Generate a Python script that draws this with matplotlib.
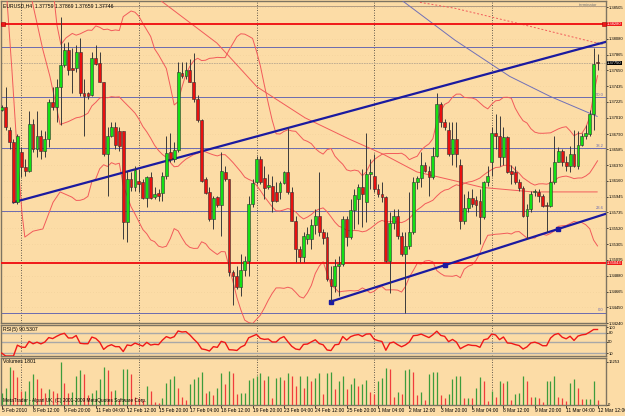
import numpy as np
import pandas as pd
import matplotlib
matplotlib.use("Agg")
import matplotlib.pyplot as plt

BG = "#fcdca6"
FONT = ["Liberation Sans Narrow", "Liberation Sans", "DejaVu Sans"]
plt.rcParams["font.family"] = FONT
FS = 3.4
FS_AX = 3.0

# EURUSD H4 candles, 5 Feb 2010 04:00 .. 12 Mar 2010 12:00 (prices in 1e-4 units)
open_p = [13712, 13716, 13685, 13669, 13587, 13655, 13634, 13629, 13693, 13659,
          13676, 13656, 13672, 13723, 13715, 13743, 13773, 13793, 13769, 13769,
          13790, 13734, 13734, 13732, 13782, 13775, 13749, 13652, 13677, 13688,
          13683, 13683, 13560, 13618, 13607, 13616, 13614, 13593, 13621, 13594,
          13599, 13599, 13622, 13655, 13645, 13657, 13762, 13757, 13766, 13750,
          13726, 13698, 13618, 13601, 13564, 13594, 13583, 13628, 13618, 13493,
          13487, 13472, 13495, 13508, 13585, 13614, 13646, 13620, 13607, 13609,
          13601, 13601, 13613, 13628, 13601, 13562, 13524, 13513, 13538, 13538,
          13556, 13568, 13547, 13540, 13484, 13474, 13501, 13504, 13564, 13540,
          13577, 13591, 13607, 13587, 13625, 13622, 13605, 13598, 13594, 13508,
          13559, 13568, 13542, 13517, 13528, 13547, 13614, 13620, 13638, 13629,
          13621, 13649, 13720, 13695, 13685, 13652, 13672, 13637, 13562, 13579,
          13593, 13590, 13589, 13567, 13614, 13641, 13681, 13676, 13648, 13675,
          13629, 13628, 13614, 13606, 13568, 13578, 13601, 13601, 13595, 13583,
          13582, 13614, 13642, 13656, 13642, 13636, 13652, 13636, 13665, 13676,
          13679, 13706, 13776]
high_p = [13719, 13742, 13688, 13672, 13679, 13661, 13645, 13710, 13699, 13710,
          13685, 13683, 13726, 13743, 13753, 13837, 13802, 13804, 13796, 13800,
          13809, 13753, 13736, 13790, 13800, 13790, 13750, 13689, 13695, 13695,
          13689, 13683, 13629, 13628, 13636, 13632, 13618, 13622, 13628, 13607,
          13605, 13628, 13676, 13681, 13669, 13777, 13777, 13777, 13780, 13789,
          13732, 13699, 13621, 13607, 13595, 13595, 13655, 13636, 13618, 13495,
          13501, 13517, 13515, 13595, 13618, 13649, 13649, 13636, 13625, 13622,
          13614, 13616, 13629, 13689, 13607, 13568, 13528, 13547, 13554, 13564,
          13578, 13628, 13551, 13547, 13501, 13511, 13515, 13568, 13568, 13591,
          13605, 13612, 13632, 13681, 13645, 13652, 13612, 13614, 13595, 13574,
          13578, 13578, 13547, 13547, 13601, 13621, 13622, 13655, 13641, 13636,
          13661, 13735, 13723, 13699, 13695, 13695, 13695, 13645, 13598, 13602,
          13605, 13595, 13605, 13616, 13636, 13689, 13706, 13703, 13689, 13676,
          13638, 13636, 13618, 13609, 13585, 13602, 13605, 13605, 13598, 13587,
          13634, 13676, 13661, 13659, 13649, 13663, 13685, 13683, 13681, 13692,
          13712, 13796, 13787]
low_p = [13710, 13685, 13659, 13586, 13585, 13621, 13622, 13628, 13655, 13648,
         13645, 13648, 13661, 13712, 13696, 13692, 13770, 13759, 13735, 13763,
         13730, 13676, 13726, 13730, 13773, 13750, 13649, 13595, 13675, 13659,
         13656, 13538, 13534, 13602, 13602, 13601, 13591, 13581, 13591, 13591,
         13589, 13589, 13618, 13641, 13642, 13655, 13755, 13753, 13749, 13722,
         13696, 13614, 13598, 13562, 13551, 13581, 13542, 13616, 13488, 13448,
         13470, 13461, 13488, 13487, 13581, 13612, 13612, 13591, 13605, 13574,
         13587, 13591, 13612, 13598, 13562, 13507, 13507, 13507, 13531, 13524,
         13544, 13542, 13531, 13481, 13454, 13466, 13461, 13501, 13528, 13538,
         13551, 13558, 13554, 13560, 13605, 13601, 13594, 13587, 13507, 13464,
         13551, 13538, 13515, 13437, 13524, 13544, 13605, 13607, 13628, 13595,
         13618, 13648, 13689, 13685, 13649, 13638, 13634, 13551, 13558, 13574,
         13581, 13568, 13531, 13564, 13609, 13622, 13659, 13636, 13638, 13626,
         13612, 13612, 13602, 13567, 13538, 13574, 13595, 13587, 13581, 13547,
         13581, 13612, 13641, 13636, 13629, 13628, 13634, 13632, 13663, 13672,
         13676, 13685, 13766]
close_p = [13716, 13688, 13669, 13587, 13676, 13634, 13629, 13693, 13659, 13676,
           13656, 13672, 13723, 13715, 13743, 13773, 13793, 13765, 13765, 13790,
           13735, 13731, 13731, 13782, 13774, 13750, 13652, 13677, 13689, 13664,
           13663, 13560, 13618, 13607, 13630, 13612, 13593, 13621, 13593, 13598,
           13595, 13622, 13653, 13645, 13657, 13763, 13757, 13766, 13750, 13726,
           13698, 13616, 13599, 13564, 13593, 13583, 13629, 13618, 13493, 13487,
           13472, 13495, 13508, 13585, 13613, 13646, 13614, 13606, 13610, 13589,
           13589, 13613, 13628, 13601, 13562, 13524, 13513, 13542, 13544, 13556,
           13568, 13547, 13539, 13484, 13474, 13501, 13504, 13564, 13540, 13577,
           13597, 13607, 13598, 13625, 13628, 13605, 13598, 13594, 13508, 13559,
           13568, 13542, 13517, 13528, 13547, 13614, 13620, 13638, 13629, 13621,
           13649, 13720, 13695, 13689, 13652, 13672, 13652, 13562, 13579, 13593,
           13585, 13583, 13567, 13614, 13622, 13681, 13676, 13648, 13675, 13628,
           13625, 13614, 13606, 13568, 13578, 13598, 13602, 13595, 13582, 13582,
           13614, 13642, 13656, 13642, 13636, 13652, 13636, 13665, 13676, 13681,
           13706, 13774, 13775]
volume = [4480, 6460, 14400, 13080, 10400, 5150, 5150, 9100, 11770, 9790,
          6460, 4480, 6000, 5150, 4480, 16253, 8450, 4480, 4800, 11100,
          13080, 11770, 3840, 4480, 5500, 9790, 14400, 13080, 5150, 5800,
          1860, 13700, 13700, 11770, 3170, 2500, 1860, 7140, 5150, 1190,
          900, 2500, 8450, 9790, 11100, 6460, 3170, 1860, 7800, 9790,
          10400, 12400, 4480, 5150, 3840, 6460, 12000, 7900, 13000, 12000,
          3960, 4500, 4500, 9500, 10000, 11000, 12000, 9500, 11000, 2500,
          10000, 10500, 9500, 12000, 11000, 7000, 11000, 6500, 11000, 9000,
          10000, 12000, 4000, 12000, 12500, 6000, 9000, 11000, 6000, 8000,
          10000, 7000, 8000, 9500, 5000, 4000, 9000, 10000, 14000, 13500,
          3000, 5000, 4300, 13080, 13700, 12400, 3840, 4800, 1860, 11770,
          12400, 12400, 3840, 2800, 4100, 9790, 11100, 11100, 2500, 2800,
          2500, 6460, 10400, 9100, 1500, 5150, 3170, 9100, 8450, 9100,
          1860, 4100, 4480, 11100, 9100, 3170, 3170, 2500, 1190, 9100,
          9100, 11100, 3170, 2500, 1500, 8450, 9790, 6460, 2200, 2200,
          2200, 9100, 1801]

x_labels = ["5 Feb 2010", "8 Feb 12:00", "9 Feb 20:00", "11 Feb 04:00", "12 Feb 12:00",
            "15 Feb 20:00", "17 Feb 04:00", "18 Feb 12:00", "19 Feb 20:00", "23 Feb 04:00",
            "24 Feb 12:00", "25 Feb 20:00", "1 Mar 04:00", "2 Mar 12:00", "3 Mar 20:00",
            "5 Mar 04:00", "8 Mar 12:00", "9 Mar 20:00", "11 Mar 04:00", "12 Mar 12:00"]
x_label_bars = [0, 8, 16, 24, 32, 40, 48, 56, 64, 72, 80, 88, 96, 104, 112, 120,
                128, 136, 144, 152]
week_starts = [5, 35, 65, 95, 125]

price_ticks = [1.38505, 1.38080, 1.37865, 1.37650, 1.37435, 1.37225, 1.37010,
               1.36790, 1.36585, 1.36370, 1.36160, 1.35945, 1.35735, 1.35520,
               1.35305, 1.35095, 1.34880, 1.34665, 1.34450, 1.34240]
red_levels = [1.3828, 1.3505]
red_labels = ["1.38280", "1.35043"]
fib_low, fib_high = 1.3438, 1.4019
fib_ratios = [0.0, 23.6, 38.2, 50.0, 61.8]
rsi_label = "RSI(5) 90.5307"

# trend lines (bar, price)
upper_tl = [(3, 1.3587), (153, 1.3802)]
lower_tl = [(84, 1.3453), (113, 1.3502), (142, 1.3551)]

# Bollinger band start (before 20 bars of history are on screen)
bb_up_early = [(13.0, 1.3880), (14.1, 1.3826), (15.1, 1.3800), (16.4, 1.3809), (18.0, 1.3815)]
bb_mid_early = [(6.0, 1.3900), (7.7, 1.3860), (10.5, 1.3793), (12.3, 1.3757), (14.1, 1.3712),
                (14.9, 1.3692), (17.0, 1.3696)]
bb_low_early = [(0.8, 1.3900), (1.35, 1.3860), (2.6, 1.3766), (3.9, 1.3659), (5.2, 1.3571),
                (5.9, 1.3540), (8.0, 1.3548), (10.5, 1.3551), (13.1, 1.3587), (14.9, 1.3601),
                (17.9, 1.3594)]

# slow moving averages (bar, price)
ma_blue = [(100, 1.3866), (102, 1.3860), (115.6, 1.3806), (129.6, 1.3757),
           (139.9, 1.3730), (151.9, 1.3703)]
ma_red_dot = [(106.7, 1.3857), (115.6, 1.3849), (131.4, 1.3829), (151.9, 1.3802)]
ma_red_slow = [(40.4, 1.3860), (54.9, 1.3802), (65.1, 1.3743), (77.4, 1.3701),
               (88.8, 1.3672), (97.3, 1.3652), (105.9, 1.3628), (115.6, 1.3616),
               (122.7, 1.3607), (135.5, 1.3601), (151.9, 1.3601)]

o = np.array(open_p) / 1e4
h = np.array(high_p) / 1e4
l = np.array(low_p) / 1e4
c = np.array(close_p) / 1e4
v = np.array(volume)
n = len(c)
x = np.arange(n)

# RSI(5), Wilder smoothing
d = pd.Series(c).diff()
ag = d.clip(lower=0).ewm(alpha=1 / 5, adjust=False).mean()
al = (-d.clip(upper=0)).ewm(alpha=1 / 5, adjust=False).mean()
rsi = (100 - 100 / (1 + ag / al)).fillna(10).values

# Bollinger bands (20, 2)
cs = pd.Series(c)
bb_mid = cs.rolling(20).mean()
bb_sd = cs.rolling(20).std(ddof=0)
bb_up = bb_mid + 2 * bb_sd
bb_lo = bb_mid - 2 * bb_sd

fig = plt.figure(figsize=(6.25, 4.16), dpi=100, facecolor=BG)
W, H = 625.0, 416.0


def axes_px(x0, y0, x1, y1):
    return fig.add_axes([x0 / W, 1 - y1 / H, (x1 - x0) / W, (y1 - y0) / H], facecolor=BG)


ax = axes_px(1, 1, 606, 323)
ar = axes_px(1, 325, 606, 356)
av = axes_px(1, 358, 606, 405)
XL = (-0.18, 154.16)

for a in (ax, ar, av):
    a.set_xlim(*XL)
    for s in a.spines.values():
        s.set_color("#7d7462")
        s.set_linewidth(1.0)
    a.tick_params(axis="x", bottom=False, labelbottom=False)
    a.yaxis.tick_right()
    a.tick_params(axis="y", length=1.2, width=0.5, pad=0.5, labelsize=FS_AX, colors="black")
    for w in week_starts:
        a.axvline(w, color="#303030", lw=0.6, ls=(0, (1, 2)), zorder=1)

# main chart
ax.set_ylim(1.34265, 1.38588)
ax.set_yticks(price_ticks)
ax.set_yticklabels([f"{p:.5f}" for p in price_ticks])
for p in price_ticks:
    ax.axhline(p, color="#e8c690", lw=0.4, ls=(0, (1, 4)), zorder=0)

for r in fib_ratios:
    p = fib_low + (fib_high - fib_low) * r / 100
    ax.axhline(p, color="#6b6bb0", lw=0.7, zorder=2)
    ax.text(153.6, p + 0.00008, f"{r:.1f}", fontsize=FS_AX, color="#6b6bb0",
            ha="right", va="bottom", zorder=3)

for p in red_levels:
    ax.axhline(p, color="#f01818", lw=1.4, zorder=4)
ax.plot([0.3, 153.6], [red_levels[0]] * 2, ls="none", marker="s", ms=2.2,
        mfc="#f01818", mec="#a00000", mew=0.4, zorder=5)

ax.plot([25.6, XL[1]], [1.3852] * 2, color="#b09a80", lw=0.7, zorder=2)
ax.axhline(c[-1], color="#b8a890", lw=0.6, ls=(0, (2, 1)), zorder=2)

BBC = "#f25a5a"
for early, band in [(bb_up_early, bb_up), (bb_mid_early, bb_mid), (bb_low_early, bb_lo)]:
    ex, ey = zip(*early)
    bx = np.concatenate([ex, x[19:]])
    by = np.concatenate([ey, band.values[19:]])
    ax.plot(bx, by, color=BBC, lw=0.7, zorder=3)

for pts, col, ls, lw in [(ma_blue, "#7070b8", "-", 0.7), (ma_red_dot, BBC, (0, (2, 2)), 0.7),
                         (ma_red_slow, BBC, "-", 0.7)]:
    px, py = zip(*pts)
    ax.plot(px, py, color=col, ls=ls, lw=lw, zorder=3)


def ray(pts, xend):
    (x0, y0), (x1, y1) = pts[0], pts[-1]
    k = (y1 - y0) / (x1 - x0)
    return [x0, xend], [y0, y0 + k * (xend - x0)]


ax.plot(*ray(upper_tl, XL[1]), color="#1a1aa0", lw=1.6, zorder=6)
ax.plot(*ray(lower_tl, XL[1]), color="#1a1aa0", lw=1.6, zorder=6)
lx, ly = zip(*lower_tl)
ax.plot(lx, ly, ls="none", marker="s", ms=2.2, mfc="#1a1aa0", mec="#1a1aa0", zorder=7)

# candles
up = c >= o
ax.vlines(x, l, h, color="#3a3a3a", lw=0.7, zorder=8)
body_lo = np.minimum(o, c)
body_h = np.maximum(np.abs(c - o), 0.00003)
ax.bar(x, body_h, bottom=body_lo, width=0.72,
       color=np.where(up, "#14e014", "#e81010"), edgecolor="#303030", linewidth=0.4, zorder=9)

# right-hand price boxes
boxes = list(zip(red_levels, ["#f01818"] * 2, red_labels)) + [(c[-1], "black", f"{c[-1]:.5f}")]
for p, fc, txt in boxes:
    ax.text(1.002, p, txt, transform=ax.get_yaxis_transform(), fontsize=FS_AX, color="white",
            va="center", ha="left", zorder=10, clip_on=False,
            bbox=dict(boxstyle="square,pad=0.05", fc=fc, ec="none"))

ax.text(0.004, 0.994, "EURUSD,H4  1.37759 1.37869 1.37659 1.37746", transform=ax.transAxes,
        fontsize=FS + 0.3, va="top", ha="left", color="black", zorder=10)
ax.text(0.985, 0.994, "terminator", transform=ax.transAxes, fontsize=3.0, va="top",
        ha="right", color="#707070", zorder=10)

# RSI panel
ar.set_ylim(0, 107)
rsi_levels = [80, 50, 10]
for lv in rsi_levels:
    ar.axhline(lv, color="#a8a8a8", lw=1.0, zorder=1)
ar.set_yticks([100] + rsi_levels)
ar.set_yticklabels(["100"] + [str(lv) for lv in rsi_levels])
ar.plot(x, rsi, color="#f01818", lw=1.0, zorder=3)
ar.text(0.004, 0.93, rsi_label, transform=ar.transAxes, fontsize=FS + 0.3,
        va="top", ha="left", color="black")

# volume panel
vmax = 16253
av.set_ylim(0, vmax * 1.09)
av.set_yticks([vmax, 0])
av.set_yticklabels([str(vmax), "0"])
vcol = ["#3c9c3c" if i == 0 or v[i] >= v[i - 1] else "#f03c3c" for i in range(n)]
av.vlines(x, 0, v, colors=vcol, lw=0.9, zorder=3)
av.text(0.004, 0.97, f"Volumes {volume[-1]}", transform=av.transAxes, fontsize=FS + 0.3,
        va="top", ha="left", color="black")
av.text(0.004, 0.04, "MetaTrader - Alpari UK, (C) 2001-2009 MetaQuotes Software Corp.",
        transform=av.transAxes, fontsize=FS, va="bottom", ha="left", color="black")

# time axis
av.set_xticks(x_label_bars)
av.tick_params(axis="x", bottom=True, length=2, width=0.5, labelbottom=False)
for b, s in zip(x_label_bars, x_labels):
    av.text(b, -0.06, s, transform=av.get_xaxis_transform(), fontsize=FS + 0.1, ha="left",
            va="top", color="black", clip_on=False)

fig.savefig("out.png", dpi=100, facecolor=BG)
